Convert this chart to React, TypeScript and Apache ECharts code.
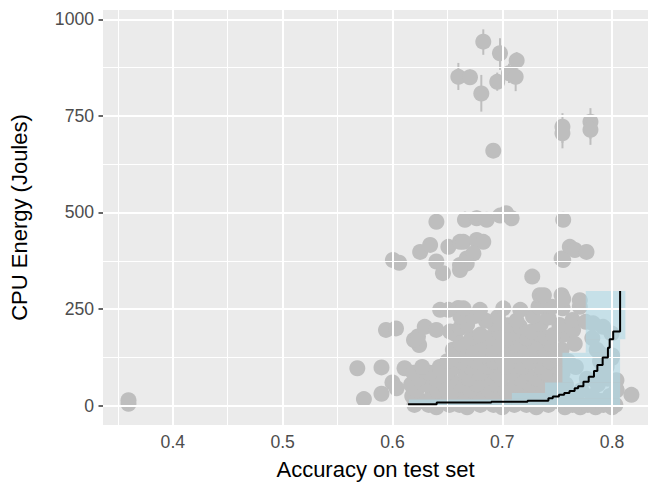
import React, { useEffect, useRef } from "react";
import * as echarts from "echarts";

// ---- axis ticks ----
const xTickValues = [0.4, 0.5, 0.6, 0.7, 0.8];
const xMinorGrid = [0.35, 0.45, 0.55, 0.65, 0.75];
const yTickValues = [0, 250, 500, 750, 1000];
const yMinorGrid = [125, 375, 625, 875];

// ---- plain points (accuracy, energy) ----
const pointAcc = [
  0.3596, 0.3596,
  0.568, 0.574, 0.59, 0.59, 0.6, 0.6037, 0.611,
  // y ~ -4
  0.64, 0.668, 0.7, 0.731, 0.757, 0.771, 0.785, 0.8,
  // y ~ 2
  0.62, 0.633, 0.652, 0.661, 0.68, 0.692, 0.711, 0.722, 0.742, 0.764, 0.778, 0.792, 0.803,
  // y ~ 12
  0.626, 0.645, 0.657, 0.673, 0.686, 0.705, 0.716, 0.736, 0.75, 0.768, 0.79,
  // y ~ 25
  0.618, 0.636, 0.649, 0.664, 0.678, 0.697, 0.709, 0.728, 0.745, 0.76, 0.782, 0.798,
  // y ~ 40
  0.622, 0.641, 0.655, 0.671, 0.688, 0.703, 0.719, 0.733, 0.752, 0.772, 0.804,
  // y ~ 55
  0.617, 0.63, 0.647, 0.662, 0.677, 0.694, 0.712, 0.725, 0.741, 0.758, 0.787,
  // y ~ 70
  0.624, 0.639, 0.653, 0.669, 0.684, 0.699, 0.716, 0.731, 0.748, 0.777, 0.796,
  // y ~ 85
  0.619, 0.634, 0.65, 0.666, 0.681, 0.695, 0.708, 0.722, 0.739, 0.755, 0.791,
  // y ~ 100
  0.627, 0.643, 0.656, 0.671, 0.687, 0.703, 0.718, 0.735, 0.75, 0.767, 0.795,
  // y ~ 115
  0.65, 0.662, 0.676, 0.692, 0.707, 0.725, 0.743, 0.76, 0.789,
  // y ~ 130
  0.658, 0.668, 0.684, 0.698, 0.713, 0.73, 0.748, 0.8,
  // y ~ 145
  0.655, 0.673, 0.69, 0.704, 0.721, 0.738, 0.754, 0.786,
  // y ~ 160
  0.6243, 0.662, 0.68, 0.696, 0.712, 0.729, 0.744, 0.766,
  // y ~ 175
  0.6196, 0.672, 0.688, 0.706, 0.722, 0.74, 0.782,
  // y ~ 185
  0.657, 0.68, 0.71, 0.734, 0.755,
  // y ~ 190-205
  0.5941, 0.6032, 0.6232, 0.6294, 0.64, 0.6525, 0.6616, 0.697, 0.716, 0.7267, 0.7464, 0.7585, 0.7645, 0.7827, 0.7918, 0.7995,
  // y ~ 210
  0.668, 0.692, 0.705, 0.735, 0.752,
  // y ~ 220-230
  0.685, 0.713, 0.764, 0.776, 0.662, 0.675, 0.696, 0.728, 0.742,
  // y ~ 250
  0.6434, 0.6509, 0.66, 0.6646, 0.6797, 0.7009, 0.7164, 0.733, 0.745, 0.755, 0.7706,
  // y ~ 285-335
  0.7341, 0.7379, 0.754, 0.7555, 0.7706, 0.7273,
  // right under the band and lone right point
  0.7888, 0.7995, 0.804, 0.804, 0.8176,
  // mid cluster 340-430
  0.6004, 0.6061, 0.6252, 0.6343, 0.64, 0.646, 0.6509, 0.6615, 0.6615, 0.6676, 0.6646, 0.6767, 0.6827,
  0.6737, 0.6676, 0.6615, 0.754, 0.7615, 0.7555, 0.7661, 0.7767, 0.6918,
];
const pointEnergy = [
  5, 14,
  97, 17, 99, 31, 60, 45, 97,
  -4, -4, -4, -4, -4, -4, -4, -4,
  2, 2, 2, 2, 2, 2, 2, 2, 2, 2, 2, 2, 2,
  12, 12, 12, 12, 12, 12, 12, 12, 12, 12, 12,
  25, 25, 25, 25, 25, 25, 25, 25, 25, 25, 25, 25,
  40, 40, 40, 40, 40, 40, 40, 40, 40, 40, 40,
  55, 55, 55, 55, 55, 55, 55, 55, 55, 55, 55,
  70, 70, 70, 70, 70, 70, 70, 70, 70, 70, 70,
  85, 85, 85, 85, 85, 85, 85, 85, 85, 85, 85,
  100, 100, 100, 100, 100, 100, 100, 100, 100, 100, 100,
  115, 115, 115, 115, 115, 115, 115, 115, 115,
  130, 130, 130, 130, 130, 130, 130, 130,
  145, 145, 145, 145, 145, 145, 145, 145,
  157, 160, 160, 160, 160, 160, 160, 160,
  170, 175, 175, 175, 175, 175, 175,
  186, 184, 187, 185, 183,
  196, 200, 179, 204, 196, 192, 201, 190, 205, 192, 183, 192, 196, 213, 204, 187,
  210, 212, 208, 211, 209,
  220, 220, 222, 217, 230, 232, 229, 231, 228,
  248, 248, 253, 252, 248, 252, 248, 256, 256, 252, 256,
  286, 286, 286, 276, 273, 334,
  136, 123, 66, 41, 28,
  377, 370, 398, 416, 373, 343, 411, 424, 364, 381, 424, 429, 424,
  394, 368, 351, 381, 411, 377, 403, 398, 660,
];

// ---- points with error bars ----
const errAcc = [0.64, 0.666, 0.6767, 0.6858, 0.698, 0.7035, 0.7085, 0.7555,
  0.6827, 0.6979, 0.7131, 0.66, 0.6706, 0.6809, 0.6954, 0.7061, 0.7122,
  0.7548, 0.7548, 0.7803, 0.7803];
const errEnergy = [476, 481, 485, 481, 492, 498, 485, 481,
  942, 912, 893, 851, 850, 808, 838, 860, 851,
  722, 705, 735, 714];
const errLow = [460, 463, 465, 470, 478, 485, 472, 470,
  908, 869, 870, 817, 830, 761, 815, 835, 814,
  680, 666, 690, 675];
const errHigh = [492, 502, 505, 492, 506, 512, 498, 492,
  974, 951, 915, 887, 870, 856, 862, 885, 890,
  757, 740, 770, 750];

// ---- uncertainty band rectangles ----
const bandXmin = [0.776, 0.776, 0.7548, 0.739, 0.7087, 0.615, 0.7087];
const bandXmax = [0.8121, 0.8073, 0.8073, 0.8073, 0.8073, 0.7087, 0.8073];
const bandYmin = [172, 137, 60, 33, 19, 2, 2];
const bandYmax = [297, 172, 137, 60, 33, 16, 19];

// ---- pareto front (step) ----
const frontAcc = [0.6142, 0.6403, 0.69, 0.723, 0.742, 0.746, 0.7516, 0.7564, 0.7612, 0.7659, 0.7691,
  0.7739, 0.7787, 0.7835, 0.7866, 0.7914, 0.7962, 0.7978, 0.801, 0.8073, 0.8073];
const frontEnergy = [4, 8, 10, 13, 19, 24, 28, 33, 38, 45, 50,
  62, 75, 90, 105, 125, 150, 172, 192, 200, 297];

const FONT = "'Liberation Sans', Arial, Helvetica, sans-serif";

export default function App() {
  const ref = useRef<HTMLDivElement>(null);
  useEffect(() => {
    if (!ref.current) return;
    const chart = echarts.init(ref.current, undefined, { renderer: "svg" });

    const points = pointAcc.map((x, i) => [x, pointEnergy[i]]);
    const errPoints = errAcc.map((x, i) => [x, errEnergy[i]]);
    const errData = errAcc.map((x, i) => [x, errLow[i], errHigh[i]]);
    const rects = bandXmin.map((x0, i) => [x0, bandXmax[i], bandYmin[i], bandYmax[i]]);
    const front = frontAcc.map((x, i) => [x, frontEnergy[i]]);

    const gridLines = [
      ...xTickValues.map((v) => ({ xAxis: v, lineStyle: { width: 2 } })),
      ...xMinorGrid.map((v) => ({ xAxis: v, lineStyle: { width: 1 } })),
      ...yTickValues.map((v) => ({ yAxis: v, lineStyle: { width: 2 } })),
      ...yMinorGrid.map((v) => ({ yAxis: v, lineStyle: { width: 1 } })),
    ];

    chart.setOption({
      animation: false,
      grid: {
        left: 102,
        right: 6,
        top: 10,
        bottom: 62,
        show: true,
        backgroundColor: "#EBEBEB",
        borderWidth: 0,
      },
      xAxis: {
        type: "value",
        min: 0.3364,
        max: 0.8327,
        name: "Accuracy on test set",
        nameLocation: "middle",
        nameGap: 33,
        nameTextStyle: { color: "#000", fontSize: 22, fontFamily: FONT },
        axisLine: { show: false },
        splitLine: { show: false },
        axisTick: {
          show: true,
          length: 4.5,
          customValues: xTickValues,
          lineStyle: { color: "#333333", width: 1.5 },
        },
        axisLabel: {
          customValues: xTickValues,
          formatter: (v: number) => v.toFixed(1),
          color: "#4D4D4D",
          fontSize: 17.6,
          fontFamily: FONT,
          margin: 8,
        },
      },
      yAxis: {
        type: "value",
        min: -50,
        max: 1024,
        name: "CPU Energy (Joules)",
        nameLocation: "middle",
        nameGap: 73,
        nameRotate: 90,
        nameTextStyle: { color: "#000", fontSize: 22, fontFamily: FONT },
        axisLine: { show: false },
        splitLine: { show: false },
        axisTick: {
          show: true,
          length: 4.5,
          customValues: yTickValues,
          lineStyle: { color: "#333333", width: 1.5 },
        },
        axisLabel: {
          customValues: yTickValues,
          formatter: (v: number) => String(Math.round(v)),
          color: "#4D4D4D",
          fontSize: 17.6,
          fontFamily: FONT,
          margin: 9,
        },
      },
      series: [
        {
          type: "scatter",
          data: [],
          z: 1,
          silent: true,
          markLine: {
            silent: true,
            symbol: ["none", "none"],
            label: { show: false },
            lineStyle: { color: "#FFFFFF", type: "solid" },
            emphasis: { disabled: true },
            data: gridLines,
          },
        },
        {
          type: "custom",
          z: 2,
          silent: true,
          data: errData,
          renderItem: (params: any, api: any) => {
            const p0 = api.coord([api.value(0), api.value(1)]);
            const p1 = api.coord([api.value(0), api.value(2)]);
            return {
              type: "line",
              shape: { x1: p0[0], y1: p0[1], x2: p1[0], y2: p1[1] },
              style: { stroke: "#BEBEBE", lineWidth: 2 },
            };
          },
        },
        {
          type: "scatter",
          z: 3,
          silent: true,
          symbol: "circle",
          symbolSize: 16,
          itemStyle: { color: "#BEBEBE", opacity: 1 },
          data: points.concat(errPoints),
        },
        {
          type: "custom",
          z: 4,
          silent: true,
          data: rects,
          renderItem: (params: any, api: any) => {
            const a = api.coord([api.value(0), api.value(3)]);
            const b = api.coord([api.value(1), api.value(2)]);
            return {
              type: "rect",
              shape: { x: a[0], y: a[1], width: b[0] - a[0], height: b[1] - a[1] },
              style: { fill: "rgba(173,216,230,0.6)" },
            };
          },
        },
        {
          type: "line",
          z: 5,
          silent: true,
          step: "end",
          symbol: "none",
          lineStyle: { color: "#000000", width: 2 },
          data: front,
        },
      ],
    });
    return () => chart.dispose();
  }, []);
  return (
    <div
      ref={ref}
      style={{ position: "absolute", left: 0, top: 0, width: 654, height: 487, background: "#FFFFFF" }}
    />
  );
}
